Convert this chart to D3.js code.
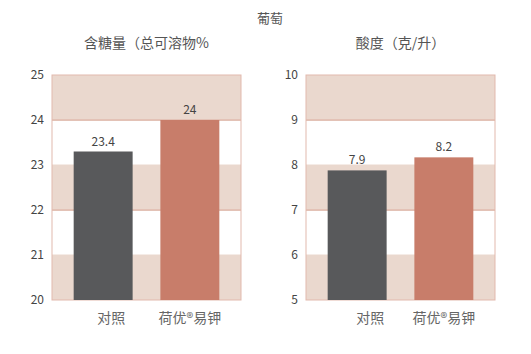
<!DOCTYPE html>
<html>
<head>
<meta charset="utf-8">
<script src="https://cdn.jsdelivr.net/npm/d3@7"></script>
<style>
  body { margin: 0; background: #fff; }
  text { font-family: "Noto Sans CJK SC", "Noto Sans", sans-serif; }
</style>
</head>
<body>
<div id="chart"></div>
<script>
// chart data
let categories = ["对照", "荷优®易钾"];
let sugarValues = [23.3, 24.0];
let sugarLabels = ["23.4", "24"];
let acidValues = [7.88, 8.17];
let acidLabels = ["7.9", "8.2"];
let sugarTicks = [20, 21, 22, 23, 24, 25];
let acidTicks = [5, 6, 7, 8, 9, 10];
let barColors = ["#58595b", "#c87d6a"];

let width = 531, height = 354;

let svg = d3.select("#chart").append("svg")
  .attr("width", width)
  .attr("height", height);

svg.append("text")
  .attr("x", 270).attr("y", 23)
  .attr("text-anchor", "middle")
  .attr("font-size", 13)
  .attr("fill", "#555")
  .text("葡萄");

function drawPanel(left, title, values, labels, ticks, catDx) {
  let top = 75, bottom = 300, w = 189;

  let g = svg.append("g");

  let y = d3.scaleLinear()
    .domain(d3.extent(ticks))
    .range([bottom, top]);

  let x = d3.scaleBand()
    .domain(categories)
    .range([left, left + w])
    .paddingInner(0.32)
    .paddingOuter(0.25);

  // alternating bands: shaded from each even step
  ticks.slice(0, -1).forEach(function (t, i) {
    if (i % 2 === 0) {
      g.append("rect")
        .attr("x", left)
        .attr("y", y(t + 1))
        .attr("width", w)
        .attr("height", y(t) - y(t + 1))
        .attr("fill", "#ead8ce");
    }
  });

  // grid lines
  ticks.slice(1, -1).forEach(function (t, i) {
    g.append("line")
      .attr("x1", left).attr("x2", left + w)
      .attr("y1", y(t)).attr("y2", y(t))
      .attr("stroke", i % 2 === 0 ? "#ead8ce" : "#e3c2b6")
      .attr("stroke-width", i % 2 === 0 ? 1 : 2);
  });

  // frame
  g.append("rect")
    .attr("x", left).attr("y", top)
    .attr("width", w).attr("height", bottom - top)
    .attr("fill", "none")
    .attr("stroke", "#e2b9ad")
    .attr("stroke-width", 1);

  // bars
  g.selectAll(".bar")
    .data(values)
    .join("rect")
    .attr("class", "bar")
    .attr("x", (d, i) => x(categories[i]))
    .attr("y", d => y(d))
    .attr("width", x.bandwidth())
    .attr("height", d => bottom - y(d))
    .attr("fill", (d, i) => barColors[i]);

  // value labels
  g.selectAll(".val")
    .data(values)
    .join("text")
    .attr("class", "val")
    .attr("x", (d, i) => x(categories[i]) + x.bandwidth() / 2)
    .attr("y", d => y(d) - 6)
    .attr("text-anchor", "middle")
    .attr("font-size", 12)
    .attr("fill", "#444")
    .text((d, i) => labels[i]);

  // y tick labels
  let axis = d3.axisLeft(y).tickValues(ticks).tickFormat(d3.format("d"))
    .tickSize(0).tickPadding(8);
  let ag = g.append("g")
    .attr("transform", "translate(" + left + ",0)")
    .call(axis);
  ag.select(".domain").remove();
  ag.selectAll("text")
    .attr("font-family", "\"Noto Sans\", sans-serif")
    .attr("font-size", 12)
    .attr("fill", "#444");

  // category labels
  g.selectAll(".cat")
    .data(categories)
    .join("text")
    .attr("class", "cat")
    .attr("x", (d, i) => x(d) + x.bandwidth() / 2 + catDx[i])
    .attr("y", 323)
    .attr("text-anchor", "middle")
    .attr("font-size", 14)
    .attr("fill", "#666")
    .text(d => d);

  // panel title
  svg.append("text")
    .attr("x", left + w / 2)
    .attr("y", 48)
    .attr("text-anchor", "middle")
    .attr("font-size", 14)
    .attr("fill", "#555")
    .text(title);
}

drawPanel(52, "含糖量（总可溶物%", sugarValues, sugarLabels, sugarTicks, [8, 0]);
drawPanel(306, "酸度（克/升）", acidValues, acidLabels, acidTicks, [13, 0]);
</script>
</body>
</html>
